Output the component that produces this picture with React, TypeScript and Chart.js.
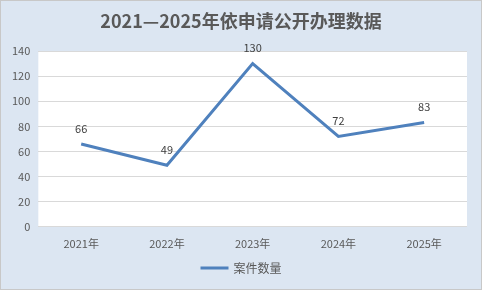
import React, { useEffect, useRef } from "react";
import { Chart, registerables } from "chart.js";

Chart.register(...registerables);

const categories = ["2021年", "2022年", "2023年", "2024年", "2025年"];
const seriesName = "案件数量";
const values = [66, 49, 130, 72, 83];
const titleText = "2021—2025年依申请公开办理数据";

const FONT = "'Noto Sans CJK SC', 'Noto Sans', sans-serif";
const LINE_COLOR = "#4f81bd";

const bgPlugin = {
  id: "bgPlugin",
  beforeDraw(chart: any) {
    const { ctx, width, height, chartArea } = chart;
    ctx.save();
    ctx.fillStyle = "#dce6f2";
    ctx.fillRect(0, 0, width, height);
    ctx.strokeStyle = "#c8c8c8";
    ctx.lineWidth = 1;
    ctx.strokeRect(0.5, 0.5, width - 1, height - 1);
    ctx.fillStyle = "#ffffff";
    ctx.fillRect(chartArea.left, chartArea.top, chartArea.right - chartArea.left, chartArea.bottom - chartArea.top);
    // title
    ctx.fillStyle = "#595959";
    ctx.font = `bold 18px ${FONT}`;
    ctx.textAlign = "center";
    ctx.textBaseline = "middle";
    ctx.fillText(titleText, width / 2, 21);
    ctx.restore();
  },
  afterDraw(chart: any) {
    const { ctx } = chart;
    const ds = chart.data.datasets[0];
    ctx.save();
    ctx.font = `12px ${FONT}`;
    const textW = ctx.measureText(ds.label).width;
    const boxW = 28;
    const gap = 5;
    const total = boxW + gap + textW;
    const x0 = chart.width / 2 - total / 2;
    const y = 268;
    ctx.strokeStyle = LINE_COLOR;
    ctx.lineWidth = 3;
    ctx.beginPath();
    ctx.moveTo(x0, y);
    ctx.lineTo(x0 + boxW, y);
    ctx.stroke();
    ctx.fillStyle = "#595959";
    ctx.textAlign = "left";
    ctx.textBaseline = "middle";
    ctx.fillText(ds.label, x0 + boxW + gap, y);
    ctx.restore();
  },
};

const labelPlugin = {
  id: "labelPlugin",
  afterDatasetsDraw(chart: any) {
    const { ctx } = chart;
    const meta = chart.getDatasetMeta(0);
    ctx.save();
    ctx.fillStyle = "#404040";
    ctx.font = `11px ${FONT}`;
    ctx.textAlign = "center";
    ctx.textBaseline = "bottom";
    meta.data.forEach((pt: any, i: number) => {
      ctx.fillText(String(values[i]), pt.x, pt.y - 10);
    });
    ctx.restore();
  },
};

export default function App() {
  const ref = useRef<HTMLCanvasElement>(null);
  useEffect(() => {
    if (!ref.current) return;
    const chart = new Chart(ref.current, {
      type: "line",
      data: {
        labels: categories,
        datasets: [
          {
            label: seriesName,
            data: values,
            borderColor: LINE_COLOR,
            backgroundColor: LINE_COLOR,
            borderWidth: 3,
            pointRadius: 0,
            tension: 0,
          },
        ],
      },
      options: {
        animation: false,
        responsive: false,
        devicePixelRatio: 1,
        layout: { padding: { left: 4, right: 15, top: 51, bottom: 38 } },
        plugins: {
          title: { display: false },
          legend: { display: false },
          tooltip: { enabled: false },
        },
        scales: {
          x: {
            offset: true,
            grid: { display: false },
            border: { display: false },
            ticks: { color: "#595959", font: { family: FONT, size: 11 }, padding: 2 },
          },
          y: {
            min: 0,
            max: 140,
            ticks: { stepSize: 20, color: "#595959", font: { family: FONT, size: 11 }, padding: 8 },
            grid: { color: "#d9d9d9", drawTicks: false },
            border: { display: false },
          },
        },
      },
      plugins: [bgPlugin, labelPlugin],
    });
    return () => chart.destroy();
  }, []);
  return (
    <div style={{ position: "fixed", left: 0, top: 0, width: 482, height: 290 }}>
      <canvas ref={ref} width={482} height={290} style={{ width: 482, height: 290 }} />
    </div>
  );
}
